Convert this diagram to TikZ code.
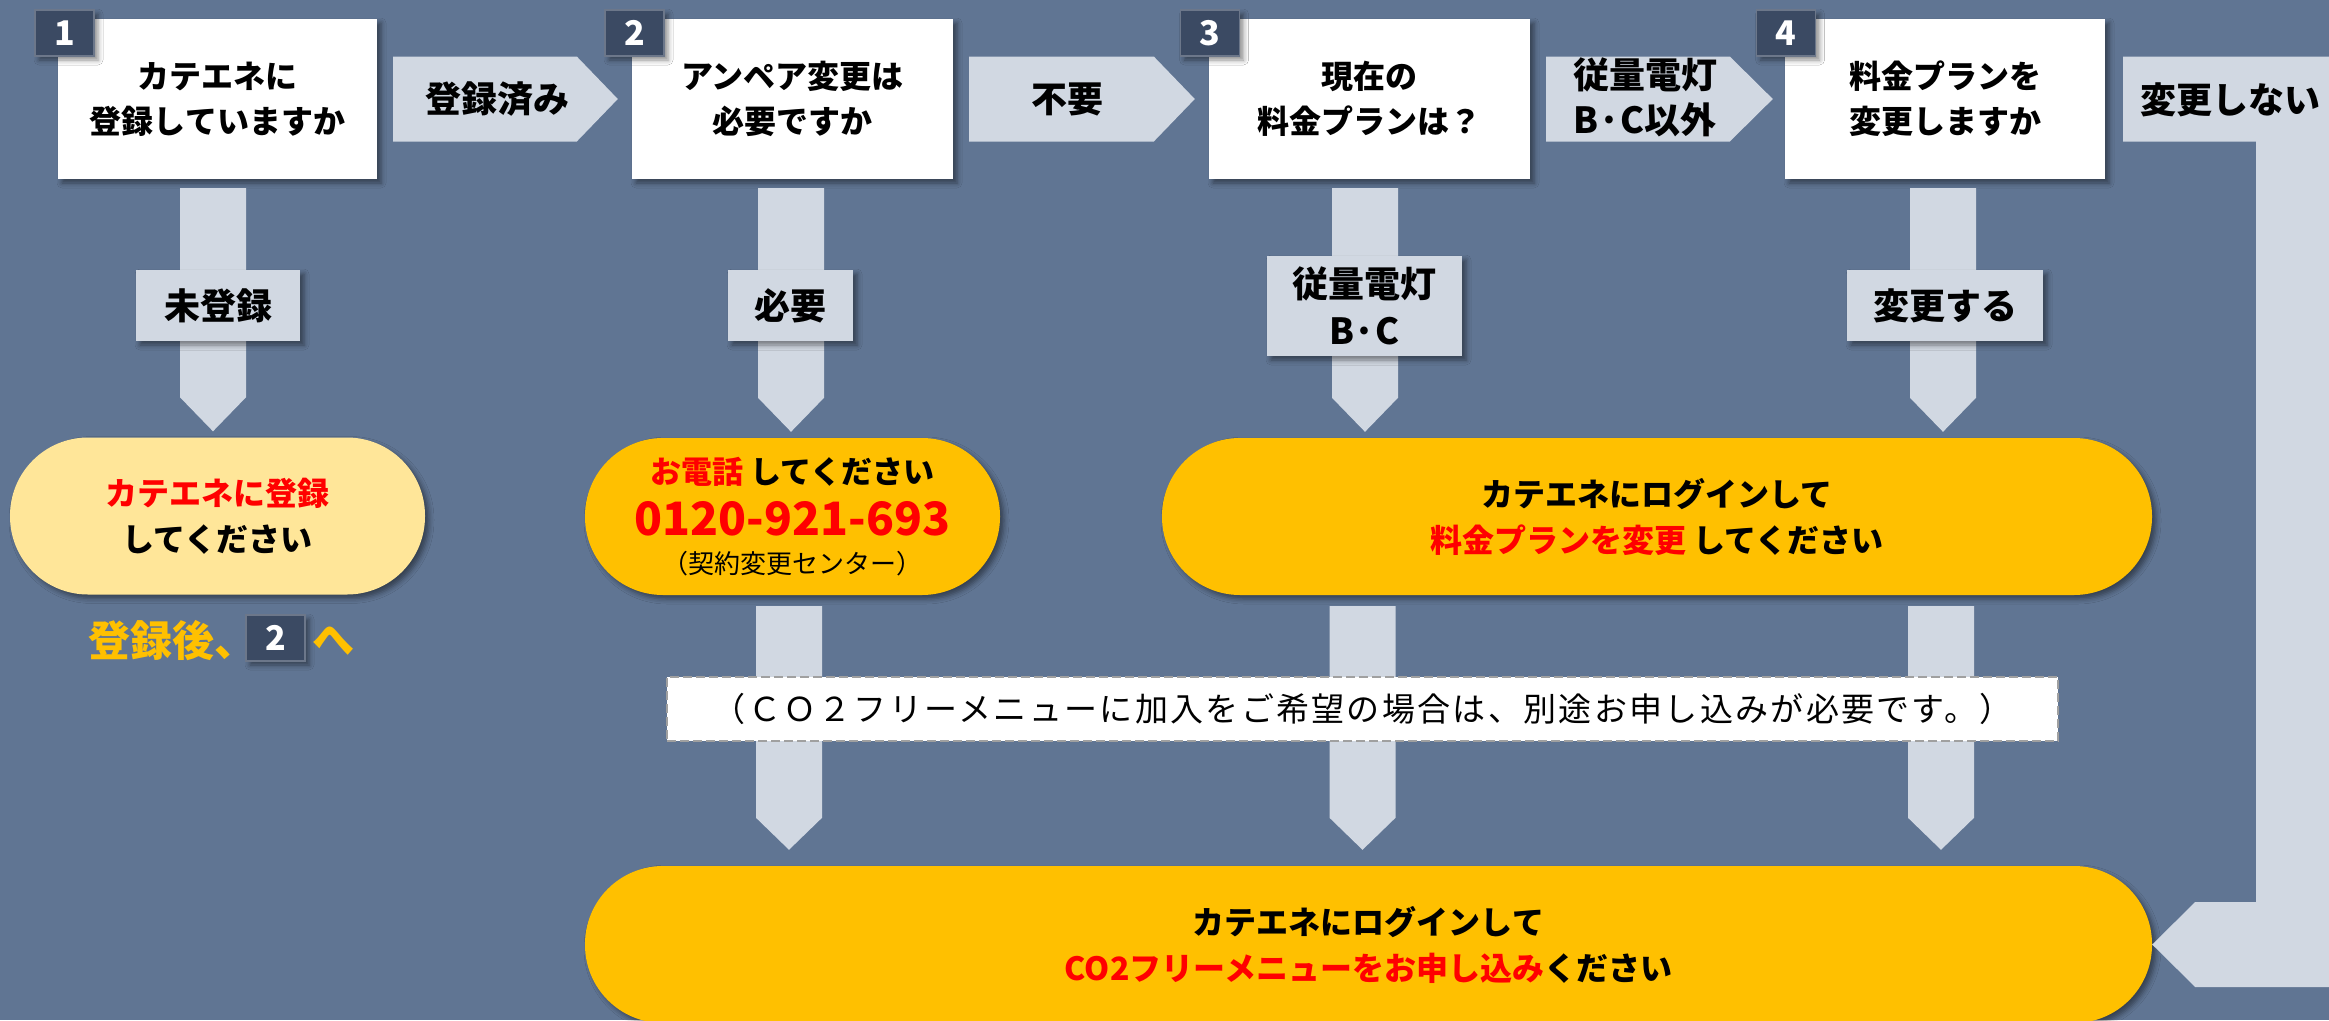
\documentclass[tikz,border=0pt]{standalone}
\usepackage{fontspec}
\setmainfont{Noto Sans CJK JP}
\usetikzlibrary{shadows.blur,calc}
\definecolor{bgc}{RGB}{96,117,147}
\definecolor{arwc}{RGB}{209,216,226}
\definecolor{badgec}{RGB}{59,74,99}
\definecolor{orng}{RGB}{255,192,0}
\definecolor{lyel}{RGB}{255,230,153}
\definecolor{redc}{RGB}{255,0,0}
\definecolor{dashc}{RGB}{160,160,160}
\tikzset{
 shd/.style={blur shadow={shadow xshift=4pt,shadow yshift=-4pt,shadow blur radius=5pt,shadow opacity=45}},
 qbox/.style={fill=white,shd,minimum width=320pt,minimum height=160pt,inner sep=0pt,align=center,font=\fontsize{32}{45}\selectfont\bfseries},
 badge/.style={fill=badgec,draw=badgec!75!white,line width=1.5pt,shd,minimum width=59pt,minimum height=46pt,inner sep=0pt,text=white,font=\fontsize{34}{34}\selectfont\bfseries},
 lblbox/.style={fill=arwc,shd,inner sep=0pt,align=center,font=\fontsize{36}{47}\selectfont\bfseries},
 arwtxt/.style={inner sep=0pt,align=center,font=\fontsize{36}{45}\selectfont\bfseries},
 pill/.style={rounded corners=78pt,shd,inner sep=0pt,align=center,minimum height=157pt,font=\fontsize{32}{46}\selectfont\bfseries},
 arw/.style={fill=arwc},
}
\newcommand\hblock[4]{\fill[arw] let \p1=(#1), \p2=(#2) in (\x1,\y1+#3) -- (\x2-#4,\y1+#3) -- (\x2,\y1) -- (\x2-#4,\y1-#3) -- (\x1,\y1-#3) -- cycle;}
\newcommand\vblock[4]{\fill[arw] let \p1=(#1), \p2=(#2) in (\x1-#3,\y1) -- (\x1+#3,\y1) -- (\x1+#3,\y2+#4) -- (\x1,\y2) -- (\x1-#3,\y2+#4) -- cycle;}
\begin{document}
\begin{tikzpicture}[x=1pt,y=-1pt]
\fill[bgc] (0,0) rectangle (2329,1020);
\useasboundingbox (0,0) rectangle (2329,1020);
\clip (0,0) rectangle (2329,1020);

% question boxes
\node[qbox,minimum width=319pt] (b1) at (217.5,99) {カテエネに\\登録していますか};
\node[qbox,minimum width=321pt] (b2) at (792.5,99) {アンペア変更は\\必要ですか};
\node[qbox,minimum width=321pt] (b3) at (1369.5,99) {現在の\\料金プランは？};
\node[qbox] (b4) at (1945,99) {料金プランを\\変更しますか};

% result pills
\node[pill,fill=lyel,minimum width=415pt] (p1) at (217.5,516) {\textcolor{redc}{カテエネに登録}\\してください};
\node[pill,fill=orng,minimum width=415pt] (p2) at (792.5,516.5) {\fontsize{31}{46}\selectfont\textcolor{redc}{お電話} してください\\[6.5pt]\fontsize{46}{46}\selectfont\textcolor{redc}{0120-921-693}\\[-8pt]\fontsize{26}{46}\selectfont\mdseries （契約変更センター）};
\node[pill,fill=orng,minimum width=990pt] (p3) at (1657,516.5) {カテエネにログインして\\\textcolor{redc}{料金プランを変更} してください};
\node[pill,fill=orng,minimum width=1567pt] (p4) at (1368.5,944.5) {カテエネにログインして\\\textcolor{redc}{CO2フリーメニューをお申し込み}ください};

% horizontal block arrows
\hblock{[xshift=16pt]b1.east}{[xshift=-14pt]b2.west}{42.5pt}{41pt}
\hblock{[xshift=16pt]b2.east}{[xshift=-14pt]b3.west}{42.5pt}{41pt}
\hblock{[xshift=16pt]b3.east}{[xshift=-12pt]b4.west}{42.5pt}{43pt}

% return arrow (変更しない)
\fill[arw] let \p1=([xshift=18pt]b4.east), \p2=(p4.east) in
  (\x1,\y1+42.5pt) -- (\x1+230pt,\y1+42.5pt) -- (\x1+230pt,\y2-42.5pt)
  -- (\x2+43pt,\y2-42.5pt) -- (\x2,\y2) -- (\x2+43pt,\y2+42.5pt)
  -- (\x1+133pt,\y2+42.5pt) -- (\x1+133pt,\y1-42.5pt) -- (\x1,\y1-42.5pt) -- cycle;

% upper down arrows
\vblock{$(b1.south)+(-4.5,9)$}{$(p1.north)+(0,-6)$}{33pt}{34pt}
\vblock{$(b2.south)+(-1.5,9)$}{$(p2.north)+(0,-6)$}{33pt}{34pt}
\vblock{$(b3.south)+(-4.5,9)$}{$(p3.north)+(0,-6)$}{33pt}{34pt}
\vblock{$(b4.south)+(-2,9)$}{$(p3.north)+(0,-6)$}{33pt}{34pt}

% lower down arrows
\vblock{$(p2.south)+(-3.5,11)$}{$(p4.north)+(0,-16)$}{33pt}{32pt}
\vblock{$(b3.south |- p3.south)+(-7,11)$}{$(p4.north)+(0,-16)$}{33pt}{32pt}
\vblock{$(b4.south |- p3.south)+(-4,11)$}{$(p4.north)+(0,-16)$}{33pt}{32pt}

% arrow texts
\node[arwtxt] (t12) at (497,99) {登録済み};
\node[arwtxt] (t23) at (1067,99) {不要};
\node[arwtxt] (t34) at (1645,97) {従量電灯\\B·C以外};
\node[arwtxt] (t4n) at (2230,100) {変更しない};

% label boxes on down arrows
\node[lblbox,minimum width=164pt,minimum height=71pt] (l1) at (218,305.5) {未登録};
\node[lblbox,minimum width=125pt,minimum height=71pt] (l2) at (790.5,305.5) {必要};
\node[lblbox,minimum width=195pt,minimum height=100pt] (l3) at (1364.5,306) {従量電灯\\B·C};
\node[lblbox,minimum width=196pt,minimum height=71pt] (l4) at (1945,305.5) {変更する};

% note
\node[draw=dashc,dash pattern=on 9pt off 4pt,line width=1.5pt,fill=white,minimum width=1391pt,minimum height=64pt,inner sep=0pt,font=\fontsize{33}{33}\selectfont\addfontfeature{LetterSpace=7}] (note) at (1362.5,709) {（ＣＯ２フリーメニューに加入をご希望の場合は、別途お申し込みが必要です。）};

% badges
\node[badge] (n1) at (64.5,33) {1};
\node[badge] (n2) at (634.5,33) {2};
\node[badge] (n3) at (1210,33) {3};
\node[badge] (n4) at (1786,33) {4};

% after registration
\node[anchor=west,inner sep=0pt,text=orng,font=\fontsize{42}{42}\selectfont\bfseries] (after) at (88,641) {登録後、};
\node[badge] (n2b) at (275.5,638) {2};
\node[anchor=west,inner sep=0pt,text=orng,font=\fontsize{42}{42}\selectfont\bfseries] (he) at (312,641) {へ};
\end{tikzpicture}
\end{document}
